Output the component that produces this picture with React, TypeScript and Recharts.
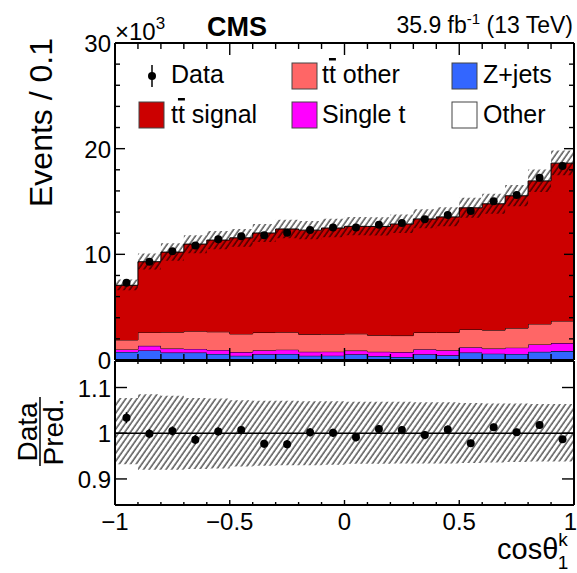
import React from "react";
import { ComposedChart, Area, Scatter, ErrorBar, XAxis, YAxis, ReferenceLine } from "recharts";

const FONT = "'Liberation Sans', Arial, Helvetica, sans-serif";

// 20 bins of cos(theta) from -1 to 1, values in 10^3 events
const binLow = [-1.0, -0.9, -0.8, -0.7, -0.6, -0.5, -0.4, -0.3, -0.2, -0.1, 0.0, 0.1, 0.2, 0.3, 0.4, 0.5, 0.6, 0.7, 0.8, 0.9];
const binCenter = [-0.95, -0.85, -0.75, -0.65, -0.55, -0.45, -0.35, -0.25, -0.15, -0.05, 0.05, 0.15, 0.25, 0.35, 0.45, 0.55, 0.65, 0.75, 0.85, 0.95];

const ttSignal = [5.17, 6.69, 7.58, 8.24, 8.68, 9.09, 9.42, 9.77, 9.86, 10.05, 10.17, 10.3, 10.56, 10.75, 10.94, 11.51, 11.95, 12.52, 13.54, 14.94];
const ttOther = [0.9, 1.27, 1.55, 1.68, 1.72, 1.72, 1.68, 1.65, 1.65, 1.65, 1.59, 1.56, 1.56, 1.58, 1.68, 1.68, 1.75, 1.85, 1.94, 2.09];
const singleTop = [0.24, 0.44, 0.38, 0.35, 0.38, 0.35, 0.38, 0.41, 0.38, 0.38, 0.35, 0.41, 0.47, 0.48, 0.48, 0.51, 0.48, 0.6, 0.7, 0.76];
const zJets = [0.71, 0.84, 0.65, 0.65, 0.52, 0.36, 0.49, 0.52, 0.36, 0.36, 0.49, 0.33, 0.24, 0.49, 0.39, 0.65, 0.55, 0.52, 0.71, 0.78];
const otherBkg = [0.05, 0.06, 0.05, 0.05, 0.05, 0.04, 0.05, 0.05, 0.04, 0.05, 0.05, 0.04, 0.04, 0.05, 0.05, 0.05, 0.05, 0.05, 0.06, 0.06];

const dataCounts = [7.32, 9.29, 10.3, 10.84, 11.42, 11.7, 11.8, 12.05, 12.3, 12.53, 12.55, 12.81, 12.97, 13.32, 13.73, 14.11, 15.03, 15.61, 17.25, 18.37];

// relative syst. uncertainty of the prediction (up / down)
const uncUp = [0.077, 0.085, 0.082, 0.077, 0.076, 0.072, 0.071, 0.071, 0.07, 0.07, 0.069, 0.069, 0.069, 0.068, 0.068, 0.066, 0.065, 0.065, 0.064, 0.064];
const uncDown = [0.068, 0.08, 0.08, 0.078, 0.077, 0.073, 0.071, 0.07, 0.07, 0.069, 0.067, 0.067, 0.066, 0.066, 0.066, 0.065, 0.064, 0.063, 0.062, 0.062];

const ratio = [1.034, 0.999, 1.005, 0.986, 1.004, 1.007, 0.977, 0.976, 1.002, 1.001, 0.991, 1.009, 1.007, 0.996, 1.008, 0.978, 1.013, 1.002, 1.018, 0.987];
const ratioErr = [0.012, 0.01, 0.01, 0.01, 0.009, 0.009, 0.009, 0.009, 0.009, 0.009, 0.009, 0.009, 0.009, 0.009, 0.009, 0.008, 0.008, 0.008, 0.008, 0.007];

const xTicks = [-1, -0.9, -0.8, -0.7, -0.6, -0.5, -0.4, -0.3, -0.2, -0.1, 0, 0.1, 0.2, 0.3, 0.4, 0.5, 0.6, 0.7, 0.8, 0.9, 1];
const xMajor = [-1, -0.5, 0, 0.5, 1];
const yTicks = [0, 2, 4, 6, 8, 10, 12, 14, 16, 18, 20, 22, 24, 26, 28, 30];
const yMajor = [0, 10, 20, 30];
const ratioTicks = [0.9, 1, 1.1];

// step histogram table: one row per bin edge, last edge repeats the last bin
const hist = [...binLow, 1.0].map((x, k) => {
  const i = Math.min(k, binLow.length - 1);
  const total = ttSignal[i] + ttOther[i] + singleTop[i] + zJets[i] + otherBkg[i];
  return {
    x,
    other: otherBkg[i],
    zjets: zJets[i],
    single: singleTop[i],
    ttOther: ttOther[i],
    ttSignal: ttSignal[i],
    band: [total * (1 - uncDown[i]), total * (1 + uncUp[i])],
    rband: [1 - uncDown[i], 1 + uncUp[i]],
  };
});
const points = binCenter.map((x, i) => ({ x, y: dataCounts[i] }));
const ratioPoints = binCenter.map((x, i) => ({ x, y: ratio[i], err: ratioErr[i] }));

const fmtX = (v: number) => (v < 0 ? `\u2212${Math.abs(v)}` : `${v}`);

function makeXTick(dir: number, majorLen: number, minorLen: number, labels: boolean) {
  return (p: any) => {
    const v = Number(p.payload.value);
    const major = xMajor.includes(v);
    // last label sits on the right edge: keep it inside the picture
    const last = v === xTicks[xTicks.length - 1];
    return (
      <g>
        <line x1={p.x} x2={p.x} y1={p.y} y2={p.y + dir * (major ? majorLen : minorLen)} stroke="#000" strokeWidth={1.4} />
        {labels && major && (
          <text x={last ? p.x + 3 : p.x} y={p.y + 25} textAnchor={last ? "end" : "middle"} fontSize={24} fontFamily={FONT} fill="#000">
            {fmtX(v)}
          </text>
        )}
      </g>
    );
  };
}

function makeYTick(dir: number, majors: number[], majorLen: number, minorLen: number, labels: boolean) {
  return (p: any) => {
    const v = Number(p.payload.value);
    const major = majors.includes(v);
    return (
      <g>
        <line x1={p.x} x2={p.x + dir * (major ? majorLen : minorLen)} y1={p.y} y2={p.y} stroke="#000" strokeWidth={1.4} />
        {labels && major && (
          <text x={p.x - 4} y={p.y + 9} textAnchor="end" fontSize={24} fontFamily={FONT} fill="#000">
            {v}
          </text>
        )}
      </g>
    );
  };
}

const dot = (p: any) => <circle cx={p.cx} cy={p.cy} r={4} fill="#000" />;
const frame = { stroke: "#000", strokeWidth: 2 };

function Swatch({ x, y, fill }: { x: number; y: number; fill: string }) {
  return <rect x={x} y={y} width={25} height={26} fill={fill} stroke="#444" strokeWidth={1} />;
}

function Overlay() {
  const t = { fontFamily: FONT, fill: "#000" };
  return (
    <svg width={577} height={573} style={{ position: "absolute", left: 0, top: 0, pointerEvents: "none" }}>
      <text x={115} y={40} fontSize={24} {...t}>
        ×10<tspan fontSize={17} dy={-11}>3</tspan>
      </text>
      <text x={207} y={36} fontSize={27} fontWeight="bold" {...t}>CMS</text>
      <text x={573} y={33} fontSize={23} textAnchor="end" {...t}>
        35.9 fb<tspan fontSize={15} dy={-9}>-1</tspan>
        <tspan dy={9}> (13 TeV)</tspan>
      </text>

      {/* legend */}
      <line x1={152} x2={152} y1={65} y2={87} stroke="#000" strokeWidth={1.5} />
      <circle cx={152} cy={76} r={4} fill="#000" />
      <text x={171} y={83} fontSize={25} {...t}>Data</text>
      <Swatch x={292} y={63} fill="#ff6666" />
      <text x={322} y={83} fontSize={25} {...t}>
        t<tspan textDecoration="overline">t</tspan> other
      </text>
      <Swatch x={452} y={63} fill="#3366ff" />
      <text x={483} y={83} fontSize={25} {...t}>Z+jets</text>
      <Swatch x={139} y={102} fill="#cc0000" />
      <text x={171} y={123} fontSize={25} {...t}>
        t<tspan textDecoration="overline">t</tspan> signal
      </text>
      <Swatch x={292} y={102} fill="#ff00ff" />
      <text x={322} y={123} fontSize={25} {...t}>Single t</text>
      <Swatch x={452} y={102} fill="#ffffff" />
      <text x={483} y={123} fontSize={25} {...t}>Other</text>

      {/* axis titles */}
      <text transform="translate(52,38) rotate(-90)" textAnchor="end" fontSize={32} {...t}>
        Events / 0.1
      </text>
      <text transform="translate(37,432) rotate(-90)" textAnchor="middle" fontSize={28} {...t}>Data</text>
      <line x1={40} x2={40} y1={397} y2={466} stroke="#000" strokeWidth={1.5} />
      <text transform="translate(63,432) rotate(-90)" textAnchor="middle" fontSize={28} {...t}>Pred.</text>
      <text x={497} y={559} fontSize={29} {...t}>
        cosθ<tspan fontSize={19} dy={-13}>k</tspan>
        <tspan fontSize={19} dx={-10} dy={23}>1</tspan>
      </text>
    </svg>
  );
}

const axisCommon = { tickSize: 0, tickMargin: 0, axisLine: frame, tickLine: false, interval: 0 as const, allowDataOverflow: true };

export default function App() {
  return (
    <div style={{ position: "absolute", left: 0, top: 0, width: 577, height: 573, background: "#fff" }}>
      <svg width={0} height={0} style={{ position: "absolute" }}>
        <defs>
          <pattern id="hatch" patternUnits="userSpaceOnUse" width={4.6} height={8} patternTransform="rotate(35)">
            <line x1={1} y1={0} x2={1} y2={8} stroke="#000" strokeWidth={1} />
          </pattern>
        </defs>
      </svg>

      <div style={{ position: "absolute", left: 0, top: 360 }}>
        <ComposedChart width={577} height={213} data={hist} margin={{ top: 0, right: 2, bottom: 67, left: 114 }}>
          <Area type="stepAfter" dataKey="rband" fill="url(#hatch)" fillOpacity={1} stroke="none" isAnimationActive={false} />
          <ReferenceLine y={1} stroke="#000" strokeWidth={1.3} />
          <Scatter data={ratioPoints} dataKey="y" shape={dot} isAnimationActive={false}>
            <ErrorBar dataKey="err" direction="y" width={0} stroke="#000" strokeWidth={1.5} />
          </Scatter>
          <XAxis dataKey="x" type="number" domain={[-1, 1]} ticks={xTicks} height={1} {...axisCommon}
            tick={makeXTick(-1, 5, 3, true)} />
          <XAxis xAxisId="top" orientation="top" dataKey="x" type="number" domain={[-1, 1]} ticks={xTicks} height={1} {...axisCommon}
            tick={makeXTick(1, 5, 3, false)} />
          <YAxis type="number" domain={[0.843, 1.158]} ticks={ratioTicks} width={1} {...axisCommon}
            tick={makeYTick(1, ratioTicks, 12, 6, true)} />
          <YAxis yAxisId="right" orientation="right" type="number" domain={[0.843, 1.158]} ticks={ratioTicks} width={1} {...axisCommon}
            tick={makeYTick(-1, ratioTicks, 12, 6, false)} />
        </ComposedChart>
      </div>

      <div style={{ position: "absolute", left: 0, top: 0 }}>
        <ComposedChart width={577} height={380} data={hist} margin={{ top: 42, right: 2, bottom: 19, left: 114 }}>
          <Area type="stepAfter" dataKey="other" stackId="mc" fill="#ffffff" fillOpacity={1} stroke="#000" strokeWidth={1} isAnimationActive={false} />
          <Area type="stepAfter" dataKey="zjets" stackId="mc" fill="#3366ff" fillOpacity={1} stroke="#000" strokeWidth={1} isAnimationActive={false} />
          <Area type="stepAfter" dataKey="single" stackId="mc" fill="#ff00ff" fillOpacity={1} stroke="#000" strokeWidth={1} isAnimationActive={false} />
          <Area type="stepAfter" dataKey="ttOther" stackId="mc" fill="#ff6666" fillOpacity={1} stroke="#000" strokeWidth={1} isAnimationActive={false} />
          <Area type="stepAfter" dataKey="ttSignal" stackId="mc" fill="#cc0000" fillOpacity={1} stroke="#000" strokeWidth={1} isAnimationActive={false} />
          <Area type="stepAfter" dataKey="band" fill="url(#hatch)" fillOpacity={1} stroke="none" isAnimationActive={false} />
          <Scatter data={points} dataKey="y" shape={dot} isAnimationActive={false} />
          <XAxis dataKey="x" type="number" domain={[-1, 1]} ticks={xTicks} height={1} {...axisCommon}
            tick={makeXTick(-1, 12, 6, false)} />
          <XAxis xAxisId="top" orientation="top" dataKey="x" type="number" domain={[-1, 1]} ticks={xTicks} height={1} {...axisCommon}
            tick={makeXTick(1, 12, 6, false)} />
          <YAxis type="number" domain={[0, 30]} ticks={yTicks} width={1} {...axisCommon}
            tick={makeYTick(1, yMajor, 10, 5, true)} />
          <YAxis yAxisId="right" orientation="right" type="number" domain={[0, 30]} ticks={yTicks} width={1} {...axisCommon}
            tick={makeYTick(-1, yMajor, 10, 5, false)} />
        </ComposedChart>
      </div>

      <Overlay />
    </div>
  );
}
